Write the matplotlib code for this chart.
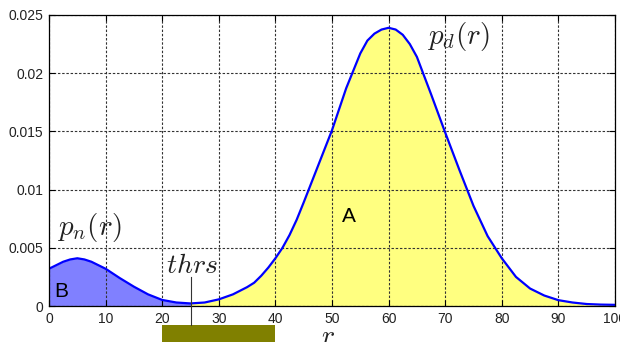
import matplotlib.pyplot as plt
import numpy as np

plt.rcParams['mathtext.fontset'] = 'cm'
plt.rcParams['font.family'] = ['Liberation Sans', 'DejaVu Sans']

# curve (r, density)
r = [0, 2.5, 3.75, 5, 6.25, 7.5, 10, 12.5, 15, 17.5, 20, 22.5, 25, 27.5, 30,
     32.5, 35, 36.25, 37.5, 38.75, 40, 41.25, 42.5, 43.75, 45, 47.5, 50,
     52.5, 55, 56.25, 57.5, 58.75, 60, 61.25, 62.5, 63.75, 65, 67.5, 70,
     72.5, 75, 77.5, 80, 81.25, 82.5, 85, 87.5, 90, 92.5, 95, 97.5, 100]
p = [0.0032, 0.0038, 0.00400, 0.0041, 0.00400, 0.0038, 0.0032, 0.0024,
     0.00166, 0.0010, 0.00052, 0.0003, 0.00022, 0.0003, 0.00057, 0.0010,
     0.00162, 0.0020, 0.0026, 0.0033, 0.0041, 0.0050, 0.0061, 0.0074,
     0.0089, 0.0120, 0.0151, 0.0187, 0.0217, 0.0228, 0.0234, 0.02375,
     0.0239, 0.02375, 0.0233, 0.0225, 0.0214, 0.0182, 0.0149, 0.0117,
     0.0086, 0.0060, 0.0041, 0.0033, 0.0025, 0.0015, 0.0009, 0.0005,
     0.0003, 0.00017, 0.00012, 0.0001]
thrs = 25
thrs_band = [20, 40]
xticks = [0, 10, 20, 30, 40, 50, 60, 70, 80, 90, 100]
yticks = [0, 0.005, 0.01, 0.015, 0.02, 0.025]
yticklabels = ['0', '0.005', '0.01', '0.015', '0.02', '0.025']

r = np.array(r)
p = np.array(p)

fig = plt.figure(figsize=(6.2, 3.42), dpi=100)
ax = fig.add_axes([49 / 620, 36 / 342, 566 / 620, 291 / 342])

below = r <= thrs
above = r >= thrs
ax.fill_between(r[below], 0, p[below], color='#8080ff', lw=0, zorder=1)
ax.fill_between(r[above], 0, p[above], color='#ffff80', lw=0, zorder=1)

ax.grid(True, color='#333333', linestyle=(0, (2.2, 1.6)), linewidth=0.8, zorder=2)
ax.set_axisbelow(False)
ax.plot(r, p, color='#0000ff', lw=1.6, zorder=3)

ax.set_xlim(0, 100)
ax.set_ylim(0, 0.025)
ax.set_xticks(xticks)
ax.set_xticklabels([str(v) for v in xticks])
ax.set_yticks(yticks)
ax.set_yticklabels(yticklabels)
ax.tick_params(direction='in', length=4, width=0.8, labelsize=10,
               labelcolor='#222222', top=True, right=True, pad=4)
for s in ax.spines.values():
    s.set_linewidth(0.9)
    s.set_zorder(4)

# annotations
ax.text(1.4, 0.0061, r'$p_n(r)$', fontsize=21, color='#222222')
ax.text(66.8, 0.0225, r'$p_d(r)$', fontsize=21, color='#222222')
ax.text(20.7, 0.00285, r'$thrs$', fontsize=20, color='#222222')
ax.text(1.0, 0.0008, 'B', fontsize=15, color='black')
ax.text(51.7, 0.0072, 'A', fontsize=15, color='black')

ax.plot([thrs, thrs], [0.0025, -0.00163], color='#333333', lw=0.8,
        clip_on=False, zorder=5)
ax.bar(thrs_band[0], -0.003, width=thrs_band[1] - thrs_band[0],
       bottom=-0.00163, align='edge', color='#808000', clip_on=False)

ax.text(49.3, -0.0027, r'$r$', fontsize=20, color='#222222',
        ha='center', va='center')

fig.savefig('out.png', dpi=100)
